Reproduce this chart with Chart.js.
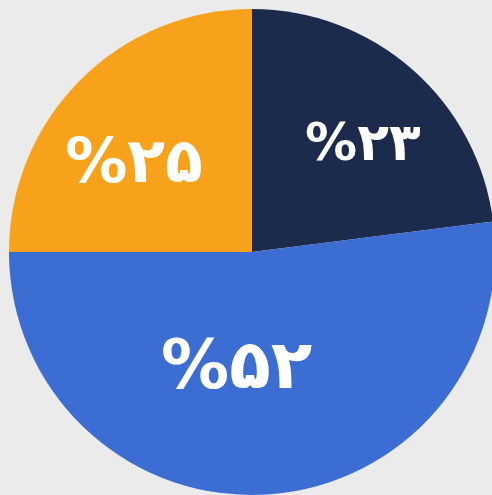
<!DOCTYPE html>
<html>
<head>
<meta charset="utf-8">
<script src="https://cdn.jsdelivr.net/npm/chart.js@4/dist/chart.umd.min.js"></script>
<style>
  html, body {
    margin: 0;
    padding: 0;
    width: 492px;
    height: 495px;
    overflow: hidden;
    background: #ebebeb;
  }
  #chart {
    position: absolute;
    left: 0;
    top: 0;
  }
</style>
</head>
<body>
<canvas id="chart" width="504" height="504"></canvas>
<script>
// datos del grafico (en el orden de las agujas del reloj desde las 12)
const categorias = ['A', 'B', 'C'];
const valores = [23, 52, 25];
const etiquetas = ['%۲۳', '%۵۲', '%۲۵'];
const colores = ['#1c2a4c', '#3c6dd3', '#f7a21a'];

// donde va cada etiqueta dentro de su porcion
const radioEtiqueta = [0.63, 0.49, 0.6];
const giroEtiqueta = [5, 11, -9]; // grados
const tamEtiqueta = [52, 68, 62];

const etiquetasPlugin = {
  id: 'etiquetasPorcion',
  afterDatasetsDraw(chart) {
    const ctx = chart.ctx;
    const meta = chart.getDatasetMeta(0);
    ctx.save();
    ctx.fillStyle = '#ffffff';
    ctx.textAlign = 'center';
    ctx.textBaseline = 'middle';
    ctx.direction = 'ltr';
    meta.data.forEach((arc, i) => {
      const p = arc.getProps(['x', 'y', 'startAngle', 'endAngle', 'outerRadius'], true);
      const ang = (p.startAngle + p.endAngle) / 2 + giroEtiqueta[i] * Math.PI / 180;
      const r = p.outerRadius * radioEtiqueta[i];
      ctx.font = 'bold ' + tamEtiqueta[i] + 'px "DejaVu Sans", sans-serif';
      ctx.fillText(etiquetas[i], p.x + Math.cos(ang) * r, p.y + Math.sin(ang) * r);
    });
    ctx.restore();
  },
};

new Chart(document.getElementById('chart'), {
  type: 'pie',
  data: {
    labels: categorias,
    datasets: [
      {
        data: valores,
        backgroundColor: colores,
        borderWidth: 0,
      },
    ],
  },
  options: {
    responsive: false,
    animation: false,
    layout: { padding: 9 },
    plugins: {
      legend: { display: false },
      tooltip: { enabled: false },
    },
  },
  plugins: [etiquetasPlugin],
});
</script>
</body>
</html>
